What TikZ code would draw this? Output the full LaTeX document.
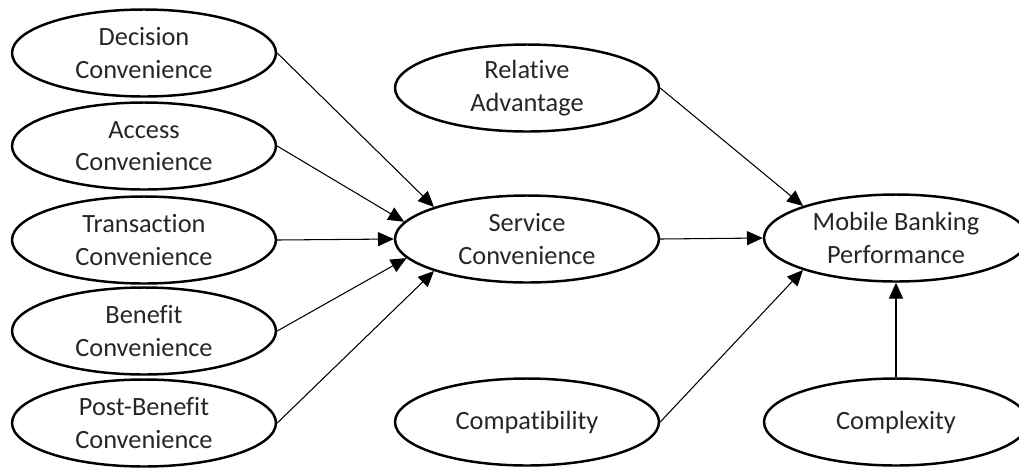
\documentclass[tikz,border=0pt]{standalone}
\usepackage{fontspec}
\setmainfont{Carlito}[Ligatures=NoCommon]
\usetikzlibrary{
	shapes,
	arrows.meta}

\begin{document}
\begin{tikzpicture}[x=0.02cm,y=-0.02cm,every text node part/.style={align=center}]
  \tikzstyle{construct}=[ellipse,draw,line width=1.4pt,minimum width=5.28cm,
    minimum height=1.74cm,inner sep=0pt,text=black!85,
    font=\fontsize{15}{18.5}\selectfont]
  \tikzstyle{path}=[line width=0.6pt,-{Triangle[length=9pt,width=8pt]}]

  \useasboundingbox (0,0) rectangle (1019,468);
  \clip (0,0) rectangle (1019,468);

  % left column
  \node [construct] (decision) at (144,53) {Decision\\Convenience};
  \node [construct] (access) at (144,146) {Access\\Convenience};
  \node [construct] (transaction) at (144,240) {Transaction\\Convenience};
  \node [construct] (benefit) at (144,331) {Benefit\\Convenience};
  \node [construct] (postbenefit) at (144,423) {Post-Benefit\\Convenience};

  % middle column
  \node [construct] (relative) at (527,88) {Relative\\Advantage};
  \node [construct] (service) at (527,239) {Service\\Convenience};
  \node [construct] (compat) at (527,422) {Compatibility};

  % right column
  \node [construct] (mobile) at (896,238) {Mobile Banking\\Performance};
  \node [construct] (complex) at (896,422) {Complexity};

  \draw [path] (decision.east) -- (service.161);
  \draw [path] (access.east) -- (service.172);
  \draw [path] (transaction.east) -- (service.west);
  \draw [path] (benefit.east) -- (service.189);
  \draw [path] (postbenefit.east) -- (service.199);

  \draw [path] (relative.east) -- (mobile.161);
  \draw [path] (service.east) -- (mobile.west);
  \draw [path] (compat.east) -- (mobile.199);
  \draw [path] (complex.north) -- (mobile.south);
\end{tikzpicture}
\end{document}
